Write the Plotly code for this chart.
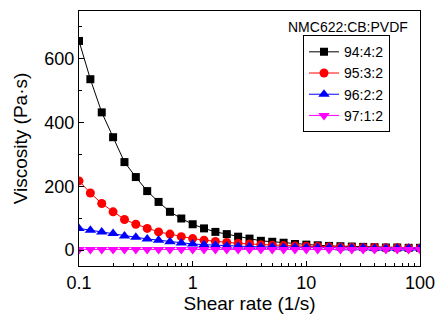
import numpy as np
import plotly.graph_objects as go

shear_rate = [round(10 ** (-1 + 0.1 * i), 4) for i in range(31)]
v_94 = [656, 536, 432, 354, 276, 229, 185, 151, 120, 99, 81, 68, 57, 50, 42, 36, 29, 26, 23, 19,
        17, 15, 13, 12, 11, 10, 9, 8, 8, 7, 7]
v_95 = [217, 179, 146, 120, 96, 81, 68, 57, 50, 42, 36, 31, 27, 24, 21, 19, 17, 15, 14, 13,
        12, 11, 10, 9, 9, 8, 8, 7, 7, 6, 6]
v_96 = [68, 62, 57, 52, 44, 40, 35, 31, 26, 22, 19, 17, 15, 13, 12, 11, 10, 10, 9, 9,
        8, 8, 8, 7, 7, 7, 6, 6, 6, 6, 6]
v_97 = [2] * 31
names = ["94:4:2", "95:3:2", "96:2:2", "97:1:2"]
colors = ["black", "red", "blue", "magenta"]
symbols = ["square", "circle", "triangle-up", "triangle-down"]
marker_sizes = [8, 9, 10, 10]
x_ticks = [0.1, 1, 10, 100]
x_ticktext = ["0.1", "1", "10", "100"]
x_minor = [m * d for d in (0.1, 1, 10) for m in range(2, 10)]
y_ticks = [0, 200, 400, 600]

fig = go.Figure()
for vals, nm, c, s, ms in zip([v_94, v_95, v_96, v_97], names, colors, symbols, marker_sizes):
    fig.add_trace(go.Scatter(
        x=shear_rate, y=vals, name=nm, mode="lines+markers",
        line=dict(color=c, width=1),
        marker=dict(symbol=s, color=c, size=ms),
    ))

font = "Arial, Liberation Sans, sans-serif"
fig.update_layout(
    width=437, height=321,
    margin=dict(l=79, r=17, t=11, b=55, autoexpand=False),
    plot_bgcolor="white", paper_bgcolor="white",
    font=dict(family=font, color="black"),
    showlegend=True,
    legend=dict(x=0.912, y=0.905, xanchor="right", yanchor="top",
                bordercolor="black", borderwidth=1, bgcolor="white",
                font=dict(size=14), tracegroupgap=0, itemwidth=30),
    xaxis=dict(type="log", range=[-1, 2], showline=True, linecolor="black", linewidth=1,
               mirror=True, ticks="inside", ticklen=5, tickcolor="black",
               tickvals=x_ticks, ticktext=x_ticktext, automargin=False,
               tickfont=dict(size=18), showgrid=False, zeroline=False,
               minor=dict(ticks="inside", ticklen=3, tickcolor="black", tickvals=x_minor, showgrid=False),
               title=dict(text="Shear rate (1/s)", font=dict(size=19), standoff=4)),
    yaxis=dict(range=[-50, 750], showline=True, linecolor="black", linewidth=1,
               mirror=True, ticks="inside", ticklen=5, tickcolor="black",
               tickvals=y_ticks, tickfont=dict(size=18), automargin=False,
               showgrid=False, zeroline=False,
               minor=dict(ticks="inside", ticklen=3, tickcolor="black", dtick=100, showgrid=False),
               title=dict(text="Viscosity (Pa·s)", font=dict(size=19), standoff=11)),
    annotations=[dict(text="NMC622:CB:PVDF", x=0.97, y=0.937, xref="paper", yref="paper",
                      xanchor="right", yanchor="middle", showarrow=False,
                      font=dict(size=14))],
)
fig.write_html("out.html", config={"displayModeBar": False},
               post_script="document.body.style.margin='0';")
